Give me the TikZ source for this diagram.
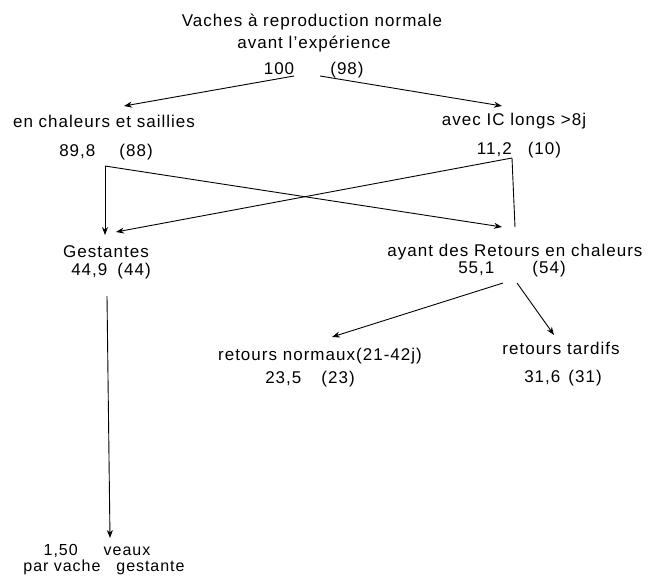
\documentclass[tikz,border=0pt]{standalone}
\usepackage{fontspec}
\setmainfont{Liberation Sans}[LetterSpace=6]
\usetikzlibrary{arrows.meta}

\begin{document}
\begin{tikzpicture}[x=1pt,y=-1pt,
  txt/.style={anchor=base,inner sep=0pt,font=\fontsize{17}{20}\selectfont},
  small/.style={txt,font=\fontsize{16}{18}\selectfont},
  fl/.style={line width=0.9pt},
  arr/.style={fl,-{Stealth[length=8pt,width=6pt]}}]
\useasboundingbox (0,0) rectangle (649,578);
% texts
\node[txt] (vaches) at (312,27) {Vaches à reproduction normale};
\node[txt] (avant) at (314,49) {avant l'expérience};
\node[txt] (cent) at (279,75) {100};
\node[txt] (nn) at (347,75) {(98)};
\node[txt] (chal) at (104,128) {en chaleurs et saillies};
\node[txt] (chalv) at (106,157) {89,8\hspace{24pt}(88)};
\node[txt] (ic) at (514,125) {avec IC longs >8j};
\node[txt] (icv) at (519,155) {11,2\hspace{16pt}(10)};
\node[txt] (gest) at (106,257) {Gestantes};
\node[txt] (gestv) at (111,275) {44,9\hspace{10pt}(44)};
\node[txt] (ret) at (515,256) {ayant des Retours en chaleurs};
\node[txt] (retv) at (512,273) {55,1\hspace{38pt}(54)};
\node[txt] (norm) at (320,360) {retours normaux(21-42j)};
\node[txt] (normv) at (310,383) {23,5\hspace{20pt}(23)};
\node[txt] (tard) at (561,354) {retours tardifs};
\node[txt] (tardv) at (563,382) {31,6\hspace{8pt}(31)};
\node[small] (veaux) at (97,555) {1,50\hspace{26pt}veaux};
\node[small] (par) at (104,571) {par vache\hspace{16pt}gestante};
% end points
\coordinate (s100) at (294,76);
\coordinate (s98) at (320,76);
\coordinate (tchal) at (124,106);
\coordinate (tic) at (502,106);
\coordinate (kl) at (105,166);
\coordinate (kr) at (512,158);
\coordinate (tgest) at (105,235);
\coordinate (tgest2) at (116,232);
\coordinate (tret) at (502,227);
\coordinate (eret) at (515,227);
\coordinate (sgest) at (107,296);
\coordinate (tveaux) at (110,538);
\coordinate (sretl) at (503,283);
\coordinate (sretr) at (517,283);
\coordinate (tnorm) at (332,337);
\coordinate (ttard) at (554,335);
% connectors
\draw[arr] (s100) -- (tchal);
\draw[arr] (s98) -- (tic);
\draw[arr] (kl) -- (tgest);
\draw[arr] (kl) -- (tret);
\draw[arr] (kr) -- (tgest2);
\draw[fl] (kr) -- (eret);
\draw[arr] (sgest) -- (tveaux);
\draw[arr] (sretl) -- (tnorm);
\draw[arr] (sretr) -- (ttard);
\end{tikzpicture}
\end{document}
